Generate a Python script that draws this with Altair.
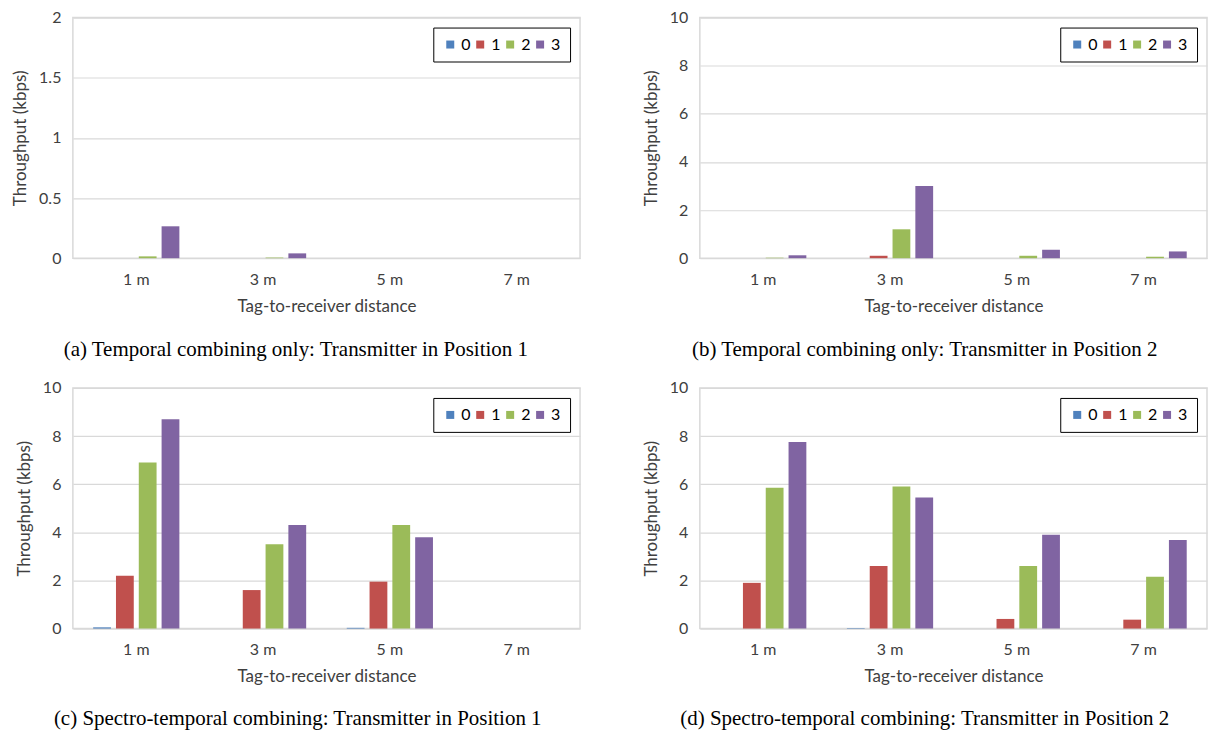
import altair as alt
import pandas as pd

# Categories and series
distances = ["1 m", "3 m", "5 m", "7 m"]
series = ["0", "1", "2", "3"]
colors = ["#4f81bd", "#c0504d", "#9bbb59", "#8064a2"]

# (a) Temporal combining only, Transmitter in Position 1
a_s0 = [0.0, 0.0, 0.0, 0.0]
a_s1 = [0.0, 0.0, 0.0, 0.0]
a_s2 = [0.015, 0.005, 0.0, 0.0]
a_s3 = [0.265, 0.04, 0.0, 0.0]

# (b) Temporal combining only, Transmitter in Position 2
b_s0 = [0.0, 0.0, 0.0, 0.0]
b_s1 = [0.0, 0.1, 0.0, 0.0]
b_s2 = [0.02, 1.2, 0.1, 0.06]
b_s3 = [0.12, 3.0, 0.35, 0.28]

# (c) Spectro-temporal combining, Transmitter in Position 1
c_s0 = [0.05, 0.0, 0.03, 0.0]
c_s1 = [2.2, 1.6, 1.95, 0.0]
c_s2 = [6.9, 3.5, 4.3, 0.0]
c_s3 = [8.7, 4.3, 3.8, 0.0]

# (d) Spectro-temporal combining, Transmitter in Position 2
d_s0 = [0.0, 0.02, 0.0, 0.0]
d_s1 = [1.9, 2.6, 0.4, 0.37]
d_s2 = [5.85, 5.9, 2.6, 2.15]
d_s3 = [7.75, 5.45, 3.9, 3.68]

captions = [
    "(a)  Temporal combining only: Transmitter in Position 1",
    "(b)  Temporal combining only: Transmitter in Position 2",
    "(c)  Spectro-temporal combining: Transmitter in Position 1",
    "(d)  Spectro-temporal combining: Transmitter in Position 2",
]

AXIS_FONT = "Lato"
TEXT_COLOR = "#404040"
GRID = "#d9d9d9"
W, H = 508, 241


def to_frame(s0, s1, s2, s3):
    rows = []
    for name, vals in zip(series, [s0, s1, s2, s3]):
        for d, v in zip(distances, vals):
            rows.append({"distance": d, "series": name, "value": v})
    return pd.DataFrame(rows)


def panel(df, ymax, ystep, caption, caption_offset):
    ticks = [round(i * ystep, 2) for i in range(int(round(ymax / ystep)) + 1)]
    return alt.Chart(df).mark_bar().encode(
        x=alt.X(
            "distance:N",
            sort=distances,
            scale=alt.Scale(paddingInner=0.32, paddingOuter=0.16),
            axis=alt.Axis(
                title="Tag-to-receiver distance",
                labelAngle=0,
                ticks=False,
                domain=False,
                labelPadding=13,
                titlePadding=11,
                labelFont=AXIS_FONT,
                labelFontSize=16,
                labelColor=TEXT_COLOR,
                titleFont=AXIS_FONT,
                titleFontSize=17,
                titleFontWeight="normal",
                titleColor=TEXT_COLOR,
            ),
        ),
        xOffset=alt.XOffset(
            "series:N",
            sort=series,
            scale=alt.Scale(paddingInner=0.22, paddingOuter=0),
        ),
        y=alt.Y(
            "value:Q",
            scale=alt.Scale(domain=[0, ymax], nice=False),
            axis=alt.Axis(
                title="Throughput (kbps)",
                values=ticks,
                format=".1~f",
                grid=True,
                gridColor=GRID,
                gridWidth=1.2,
                ticks=False,
                domain=False,
                labelPadding=12,
                titlePadding=9,
                labelFont=AXIS_FONT,
                labelFontSize=16,
                labelColor=TEXT_COLOR,
                titleFont=AXIS_FONT,
                titleFontSize=17,
                titleFontWeight="normal",
                titleColor=TEXT_COLOR,
            ),
        ),
        color=alt.Color(
            "series:N",
            scale=alt.Scale(domain=series, range=colors),
            legend=alt.Legend(
                title=None,
                orient="top-right",
                offset=10,
                direction="horizontal",
                columns=4,
                strokeColor="black",
                padding=9,
                symbolType="square",
                symbolSize=64,
                symbolStrokeWidth=0,
                labelFont=AXIS_FONT,
                labelFontSize=16,
                labelColor="black",
                labelOffset=3,
                columnPadding=1,
            ),
        ),
    ).properties(
        width=W,
        height=H,
        title=alt.TitleParams(
            text=caption,
            orient="bottom",
            anchor="middle",
            frame="bounds",
            font="Liberation Serif",
            fontSize=21,
            fontWeight="normal",
            color="black",
            offset=caption_offset,
        ),
    )


pa = panel(to_frame(a_s0, a_s1, a_s2, a_s3), 2, 0.5, captions[0], 25)
pb = panel(to_frame(b_s0, b_s1, b_s2, b_s3), 10, 2, captions[1], 25)
pc = panel(to_frame(c_s0, c_s1, c_s2, c_s3), 10, 2, captions[2], 24)
pd_ = panel(to_frame(d_s0, d_s1, d_s2, d_s3), 10, 2, captions[3], 24)

chart = alt.vconcat(
    alt.hconcat(pa, pb, spacing=60).resolve_scale(color="independent"),
    alt.hconcat(pc, pd_, spacing=60).resolve_scale(color="independent"),
    spacing=18,
).resolve_scale(color="independent").properties(
    padding={"left": 10, "top": 8, "right": 0, "bottom": 0}
).configure_view(
    stroke=GRID, strokeWidth=1.5
)

chart.save("out.html", embed_options={"renderer": "svg", "actions": False})
